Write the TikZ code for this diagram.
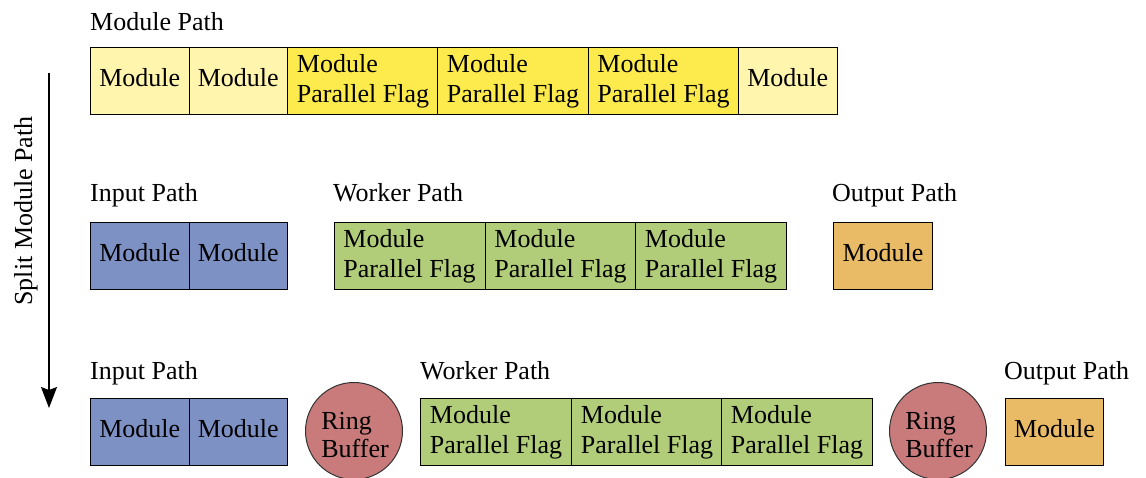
\documentclass[tikz,border=0pt]{standalone}
\usepackage{fontspec}
\setmainfont{Liberation Serif}
\usetikzlibrary{arrows.meta}

\definecolor{modpale}{RGB}{255,245,172}
\definecolor{modflag}{RGB}{253,235,77}
\definecolor{inblue}{RGB}{125,145,196}
\definecolor{workgreen}{RGB}{177,205,121}
\definecolor{outorange}{RGB}{234,187,102}
\definecolor{ringred}{RGB}{201,123,123}

\tikzset{
  txt/.style={font=\fontsize{26}{30}\selectfont},
  cell/.style={txt, draw=black, line width=1.1pt, inner sep=0pt,
    anchor=north west, minimum height=67pt},
  single/.style={cell, text height=18pt, text depth=7pt},
  double/.style={cell, align=left},
  narrow/.style={minimum width=98.5pt},
  wide/.style={minimum width=151pt},
  ring/.style={circle, draw=black!80, line width=1pt, fill=ringred,
    minimum size=97pt, inner sep=0pt},
  ringtext/.style={align=left, inner sep=0pt,
    font=\fontsize{26}{28}\selectfont},
  heading/.style={txt, anchor=base west, inner sep=0pt},
}

\begin{document}
\begin{tikzpicture}[x=1pt, y=-1pt]
\useasboundingbox (0,0) rectangle (1146,478);

% ---- original module path ----
\node[heading] (modpath) at (90,31) {Module Path};
\node[single, narrow, fill=modpale] (m1) at (90,47) {Module};
\node[single, narrow, fill=modpale] (m2) at (188.5,47) {Module};
\node[double, wide, fill=modflag] (m3) at (287,47) {Module\\Parallel Flag};
\node[double, wide, fill=modflag] (m4) at (437,47) {Module\\Parallel Flag};
\node[double, wide, fill=modflag] (m5) at (587.5,47) {Module\\Parallel Flag};
\node[single, narrow, fill=modpale] (m6) at (738,47) {Module};

% ---- split direction ----
\coordinate (splittop) at (49,73);
\coordinate (splitend) at (49,408);
\draw[line width=1.1pt, -{Stealth[length=21pt, width=16pt, inset=3pt]}]
  (splittop) -- (splitend);
\node[txt, rotate=90, anchor=base, inner sep=0pt] (splitlabel) at (32,211)
  {Split Module Path};

% ---- split paths ----
\node[heading] (inlabA) at (90,202) {Input Path};
\node[single, narrow, fill=inblue] (ia1) at (90,222) {Module};
\node[single, narrow, fill=inblue] (ia2) at (188.5,222) {Module};

\node[heading] (wklabA) at (333,202) {Worker Path};
\node[double, wide, fill=workgreen] (wa1) at (333.5,222) {Module\\Parallel Flag};
\node[double, wide, fill=workgreen] (wa2) at (484.5,222) {Module\\Parallel Flag};
\node[double, wide, fill=workgreen] (wa3) at (635,222) {Module\\Parallel Flag};

\node[heading] (outlabA) at (832,202) {Output Path};
\node[single, minimum width=99pt, fill=outorange] (oa1) at (833,222) {Module};

% ---- split paths with ring buffers ----
\node[heading] (inlabB) at (90,379) {Input Path};
\node[single, narrow, fill=inblue] (ib1) at (90,398) {Module};
\node[single, narrow, fill=inblue] (ib2) at (188.5,398) {Module};

\node[ring] (ring1) at (354,431) {};
\node[ringtext] (ring1txt) at (355,435) {Ring\\Buffer};

\node[heading] (wklabB) at (420,379) {Worker Path};
\node[double, wide, fill=workgreen] (wb1) at (420,398) {Module\\Parallel Flag};
\node[double, wide, fill=workgreen] (wb2) at (571,398) {Module\\Parallel Flag};
\node[double, wide, fill=workgreen] (wb3) at (721,398) {Module\\Parallel Flag};

\node[ring] (ring2) at (938,431) {};
\node[ringtext] (ring2txt) at (939,435) {Ring\\Buffer};

\node[heading] (outlabB) at (1004,379) {Output Path};
\node[single, minimum width=98pt, fill=outorange] (ob1) at (1005,398) {Module};
\end{tikzpicture}
\end{document}
